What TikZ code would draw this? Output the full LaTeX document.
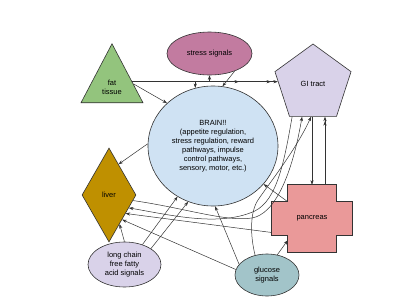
\documentclass[tikz,border=0pt]{standalone}
\usepackage{fontspec}
\setmainfont{Liberation Sans}
\usetikzlibrary{arrows.meta,calc,shapes.geometric,backgrounds}

\definecolor{fatgreen}{HTML}{93C47D}
\definecolor{stressmauve}{HTML}{C27BA0}
\definecolor{gililac}{HTML}{D9D2E9}
\definecolor{brainblue}{HTML}{CFE2F3}
\definecolor{livergold}{HTML}{BF9000}
\definecolor{pancreasred}{HTML}{EA9999}
\definecolor{glucoseteal}{HTML}{A2C4C9}

\begin{document}
\begin{tikzpicture}[x=1pt,y=-1pt,>=Stealth,
  organ/.style={draw=black!80,line width=0.6pt,inner sep=0pt,align=center,
    text=black,font=\fontsize{7.5}{9}\selectfont},
  arr/.style={->,draw=black!80,line width=0.5pt,>={Stealth[length=4.5pt,width=3.2pt]}},
  arrtwo/.style={arr,-{Stealth[length=4.5pt,width=3.2pt]Stealth[length=4.5pt,width=3.2pt]}}]
  \useasboundingbox (0,0) rectangle (400,300);

  % organs and signals
  \node[organ,ellipse,fill=brainblue,minimum width=130pt,minimum height=120pt] (brain) at (213,146)
    {BRAIN!!\\(appetite regulation,\\stress regulation, reward\\pathways, impulse\\control pathways,\\sensory, motor, etc.)};
  \node[organ,ellipse,fill=stressmauve,minimum width=85pt,minimum height=43pt] (stress) at (209.5,53.5) {stress signals};
  \node[organ,regular polygon,regular polygon sides=5,fill=gililac,minimum size=80pt] (GI) at (313,84) {GI tract};
  \node[organ,isosceles triangle,isosceles triangle stretches,shape border rotate=90,
    fill=fatgreen,minimum width=62pt,minimum height=59pt,anchor=apex] (fat) at (112,43) {fat\\tissue};
  \node[organ,diamond,fill=livergold,minimum width=54pt,minimum height=94pt] (liver) at (109,195) {liver};
  \node[organ,ellipse,fill=gililac,minimum width=73pt,minimum height=45pt] (longchain) at (124.5,264.5)
    {long chain\\free fatty\\acid signals};
  \node[organ,ellipse,fill=glucoseteal,minimum width=64pt,minimum height=42pt] (glucose) at (267,275)
    {glucose\\signals};
  \node[organ,draw=none,minimum width=80pt,minimum height=67pt] (pancreas) at (312,218.5) {pancreas};
  \begin{scope}[on background layer]
    \draw[organ,fill=pancreasred]
      ($(pancreas.north west)+(16pt,0)$) -- ($(pancreas.north east)+(-16pt,0)$)
      -- ($(pancreas.north east)+(-16pt,-17pt)$) -- ($(pancreas.north east)+(0,-17pt)$)
      -- ($(pancreas.south east)+(0,17pt)$) -- ($(pancreas.south east)+(-16pt,17pt)$)
      -- ($(pancreas.south east)+(-16pt,0)$) -- ($(pancreas.south west)+(16pt,0)$)
      -- ($(pancreas.south west)+(16pt,17pt)$) -- ($(pancreas.south west)+(0,17pt)$)
      -- ($(pancreas.north west)+(0,-17pt)$) -- ($(pancreas.north west)+(16pt,-17pt)$) -- cycle;
  \end{scope}

  % points on the borders
  \coordinate (fatE) at ($(fat.apex)!0.644!(fat.right corner)$);
  \coordinate (fatD) at ($(fat.apex)!0.68!(fat.right corner)$);
  \coordinate (GIw) at ($(GI.corner 2)!0.22!(GI.corner 3)$);
  \coordinate (GIa) at ($(GI.corner 3)!0.06!(GI.corner 4)$);
  \coordinate (GIb) at ($(GI.corner 3)!0.27!(GI.corner 4)$);
  \coordinate (GIc) at ($(GI.corner 3)!0.46!(GI.corner 4)$);
  \coordinate (pnE) at ($(pancreas.north)+(13pt,0)$);

  % fat tissue
  \draw[arr] (fatE) -- (fatE -| GIw);
  \draw[arr] (fatE) -- (fatE -| 239,0);
  \draw[arr] (fatE) -- (fatE -| 271,0);
  \draw[arr] (fatE) -| (brain.107);
  \draw[arr] (fatE) -| (stress.south);
  \draw[arr] (fatD) -- (brain.137);
  % stress and brain
  \draw[arr] (stress.-35) -- (brain.81);
  \draw[arr] (brain.178) -- ($(liver.north)!0.35!(liver.east)$);
  % long chain signals
  \draw[arr] (longchain.48) -- (brain.235);
  \draw[arr] (longchain.31) -- (brain.246);
  \draw[arr] (longchain.north) -- (liver.-70);
  % glucose signals
  \draw[arr] (glucose.170) -- (liver.-62);
  \draw[arr] (glucose.159) -- (brain.272);
  \draw[arr] (glucose.63) -- ($(pancreas.south west)+(16pt,12pt)$);
  \draw[arr] (glucose.121) .. controls (250,235) and (250,212) .. (258,200)
    .. controls (268,185) and (296,150) .. (GIc);
  % pancreas
  \draw[arr] ($(pancreas.north west)+(16pt,-17pt)$) -- (brain.-37);
  \draw[arr] ($(pancreas.west)+(0,-14pt)$) -- (liver.-48);
  \draw[arr] (pancreas.north |- GI.corner 3) -- (pancreas.north);
  \draw[arrtwo] (pnE) -- (pnE |- GI.corner 3);
  % GI tract and liver
  \draw[arr] (GIa) .. controls (283,170) and (275,205) .. (250,213)
    .. controls (215,226) and (170,215) .. (liver.-33);
  \draw[arr] (liver.-13) .. controls (185,208) and (225,222) .. (252,218)
    .. controls (275,214) and (292,175) .. (GIb);
\end{tikzpicture}
\end{document}
